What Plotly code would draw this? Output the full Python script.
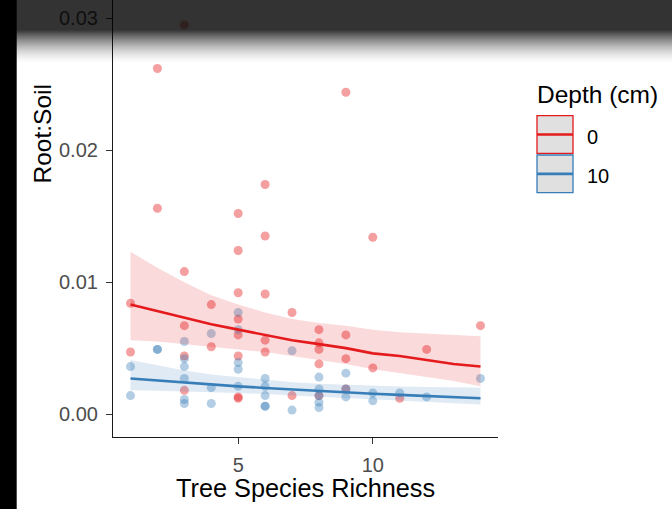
import plotly.graph_objects as go

# ---------------- data ----------------
# Depth 0 cm
x_d0 = [1, 1,
        2, 2,
        3, 3, 3, 3, 3,
        4, 4,
        5, 5, 5, 5, 5, 5, 5, 5,
        6, 6, 6, 6, 6,
        7, 7,
        8, 8, 8, 8, 8,
        9, 9, 9, 9,
        10, 10,
        11,
        12,
        14]
y_d0 = [0.0084, 0.0047,
        0.0262, 0.0156,
        0.0295, 0.0108, 0.0067, 0.0044, 0.0018,
        0.0083, 0.0051,
        0.0152, 0.0124, 0.0092, 0.0072, 0.0060, 0.0044, 0.0013, 0.0012,
        0.0174, 0.0135, 0.0091, 0.0056, 0.0047,
        0.0077, 0.0014,
        0.0064, 0.0054, 0.0049, 0.0038, 0.0014,
        0.0244, 0.0060, 0.0042, 0.0019,
        0.0134, 0.0035,
        0.0012,
        0.0049,
        0.0067]

# Depth 10 cm
x_d10 = [1, 1,
         2, 2,
         3, 3, 3, 3, 3, 3,
         4, 4, 4,
         5, 5, 5, 5, 5,
         6, 6, 6, 6, 6,
         7, 7,
         8, 8, 8, 8, 8,
         9, 9, 9,
         10, 10,
         11,
         12,
         14]
y_d10 = [0.0036, 0.0014,
         0.0049, 0.0049,
         0.0055, 0.0042, 0.0036, 0.0027, 0.0011, 0.0008,
         0.0061, 0.0020, 0.0008,
         0.0077, 0.0064, 0.0039, 0.0034, 0.0021,
         0.0027, 0.0021, 0.0014, 0.0006, 0.0006,
         0.0048, 0.0003,
         0.0028, 0.0019, 0.0014, 0.0009, 0.0005,
         0.0031, 0.0019, 0.0013,
         0.0016, 0.0010,
         0.0016,
         0.0013,
         0.0027]

# fitted smooth lines and confidence bands (read at each x)
fit_x = [1, 2, 3, 4, 5, 6, 7, 8, 9, 10, 11, 12, 13, 14]
fit_d0 = [0.0083, 0.0078, 0.0073, 0.0068, 0.0064, 0.0060, 0.0056,
          0.0053, 0.0050, 0.0046, 0.0044, 0.0041, 0.0038, 0.0036]
upr_d0 = [0.0123, 0.0111, 0.0100, 0.0090, 0.0083, 0.0077, 0.0072,
          0.0069, 0.0067, 0.0064, 0.0062, 0.0061, 0.0060, 0.0059]
lwr_d0 = [0.0056, 0.0055, 0.0053, 0.0051, 0.0049, 0.0047, 0.0044,
          0.0041, 0.0038, 0.0034, 0.0031, 0.0028, 0.0025, 0.0021]
fit_d10 = [0.00270, 0.00254, 0.00238, 0.00224, 0.00210, 0.00198, 0.00186,
           0.00174, 0.00164, 0.00154, 0.00145, 0.00136, 0.00128, 0.00120]
upr_d10 = [0.00410, 0.00370, 0.00330, 0.00300, 0.00280, 0.00258, 0.00242,
           0.00229, 0.00221, 0.00214, 0.00209, 0.00205, 0.00202, 0.00200]
lwr_d10 = [0.00180, 0.00176, 0.00171, 0.00166, 0.00159, 0.00152, 0.00143,
           0.00132, 0.00121, 0.00111, 0.00100, 0.00090, 0.00081, 0.00072]

x_tickvals = [5, 10]
x_ticktext = ["5", "10"]
y_tickvals = [0.00, 0.01, 0.02, 0.03]
y_ticktext = ["0.00", "0.01", "0.02", "0.03"]

legend_title = "Depth (cm)"
legend_labels = ["0", "10"]
x_title = "Tree Species Richness"
y_title = "Root:Soil"

# ---------------- styling ----------------
RED = "#E41A1C"
BLUE = "#377EB8"
FONT = "Liberation Sans"
W, H = 672, 509
ML, MR, MT, MB = 113, 174, 0, 72
PW, PH = W - ML - MR, H - MT - MB


def px2x(px):
    return (px - ML) / PW


def py2y(py):
    return (H - MB - py) / PH


fig = go.Figure()

# points
fig.add_trace(go.Scatter(x=x_d0, y=y_d0, mode="markers",
                         marker=dict(size=9, color=RED, opacity=0.42,
                                     line=dict(width=0)),
                         showlegend=False, hoverinfo="skip"))
fig.add_trace(go.Scatter(x=x_d10, y=y_d10, mode="markers",
                         marker=dict(size=9, color=BLUE, opacity=0.38,
                                     line=dict(width=0)),
                         showlegend=False, hoverinfo="skip"))

# confidence ribbons
for lo, up, rgba in [(lwr_d0, upr_d0, "rgba(228,26,28,0.16)"),
                     (lwr_d10, upr_d10, "rgba(55,126,184,0.16)")]:
    fig.add_trace(go.Scatter(x=fit_x + fit_x[::-1], y=up + lo[::-1],
                             mode="lines", fill="toself", fillcolor=rgba,
                             line=dict(width=0), showlegend=False,
                             hoverinfo="skip"))

# fitted lines
fig.add_trace(go.Scatter(x=fit_x, y=fit_d0, mode="lines",
                         line=dict(color=RED, width=2.6),
                         showlegend=False, hoverinfo="skip"))
fig.add_trace(go.Scatter(x=fit_x, y=fit_d10, mode="lines",
                         line=dict(color=BLUE, width=2.6),
                         showlegend=False, hoverinfo="skip"))

axis_common = dict(showline=True, linecolor="#1a1a1a", linewidth=1.2,
                   ticks="outside", ticklen=6, tickwidth=1.1,
                   tickcolor="#333333", showgrid=False, zeroline=False,
                   tickfont=dict(family=FONT, size=20, color="#4D4D4D"),
                   ticklabelstandoff=4)

fig.update_xaxes(range=[0.35, 14.65], tickvals=x_tickvals,
                 ticktext=x_ticktext, **axis_common)
fig.update_yaxes(range=[-0.00174, 0.03139], tickvals=y_tickvals,
                 ticktext=y_ticktext, **axis_common)

annotations = [
    dict(text=x_title, x=px2x(305), y=py2y(488), xref="paper", yref="paper",
         showarrow=False, xanchor="center", yanchor="middle",
         font=dict(family=FONT, size=25.3, color="black")),
    dict(text=y_title, x=px2x(42), y=py2y(134.5), xref="paper", yref="paper",
         showarrow=False, xanchor="center", yanchor="middle", textangle=-90,
         font=dict(family=FONT, size=24.5, color="black")),
    dict(text=legend_title, x=px2x(535), y=py2y(95), xref="paper",
         yref="paper", showarrow=False, xanchor="left", yanchor="middle",
         font=dict(family=FONT, size=24.5, color="black")),
]

shapes = []
# legend keys
key_rows = [(115.7, 153.3, RED), (155.0, 192.7, BLUE)]
for (top, bot, col), lab in zip(key_rows, legend_labels):
    shapes.append(dict(type="rect", xref="paper", yref="paper",
                       x0=px2x(537), x1=px2x(573), y0=py2y(bot), y1=py2y(top),
                       fillcolor="#E0E0E0", line=dict(color=col, width=1.3),
                       layer="above"))
    mid = (top + bot) / 2
    shapes.append(dict(type="line", xref="paper", yref="paper",
                       x0=px2x(537), x1=px2x(573), y0=py2y(mid), y1=py2y(mid),
                       line=dict(color=col, width=2.6), layer="above"))
    annotations.append(dict(text=lab, x=px2x(585), y=py2y(mid + 2),
                            xref="paper", yref="paper", showarrow=False,
                            xanchor="left", yanchor="middle",
                            font=dict(family=FONT, size=20, color="black")))

# screenshot artefacts: dark fading band at top, black strip at left
shapes.append(dict(type="rect", xref="paper", yref="paper",
                   x0=px2x(0), x1=px2x(W), y0=py2y(30), y1=py2y(0),
                   fillcolor="rgba(0,0,0,0.8)", line=dict(width=0),
                   layer="above"))
for i in range(34):
    t = (i + 0.5) / 34
    a = 0.8 * (1 - t) ** 1.6
    shapes.append(dict(type="rect", xref="paper", yref="paper",
                       x0=px2x(0), x1=px2x(W), y0=py2y(31 + i), y1=py2y(30 + i),
                       fillcolor=f"rgba(0,0,0,{a:.3f})", line=dict(width=0),
                       layer="above"))
shapes.append(dict(type="rect", xref="paper", yref="paper",
                   x0=px2x(0), x1=px2x(16.7), y0=py2y(H), y1=py2y(0),
                   fillcolor="black", line=dict(width=0), layer="above"))

fig.update_layout(width=W, height=H,
                  margin=dict(l=ML, r=MR, t=MT, b=MB, pad=0),
                  paper_bgcolor="white", plot_bgcolor="white",
                  showlegend=False, annotations=annotations, shapes=shapes,
                  font=dict(family=FONT))

fig.write_html("out.html")
